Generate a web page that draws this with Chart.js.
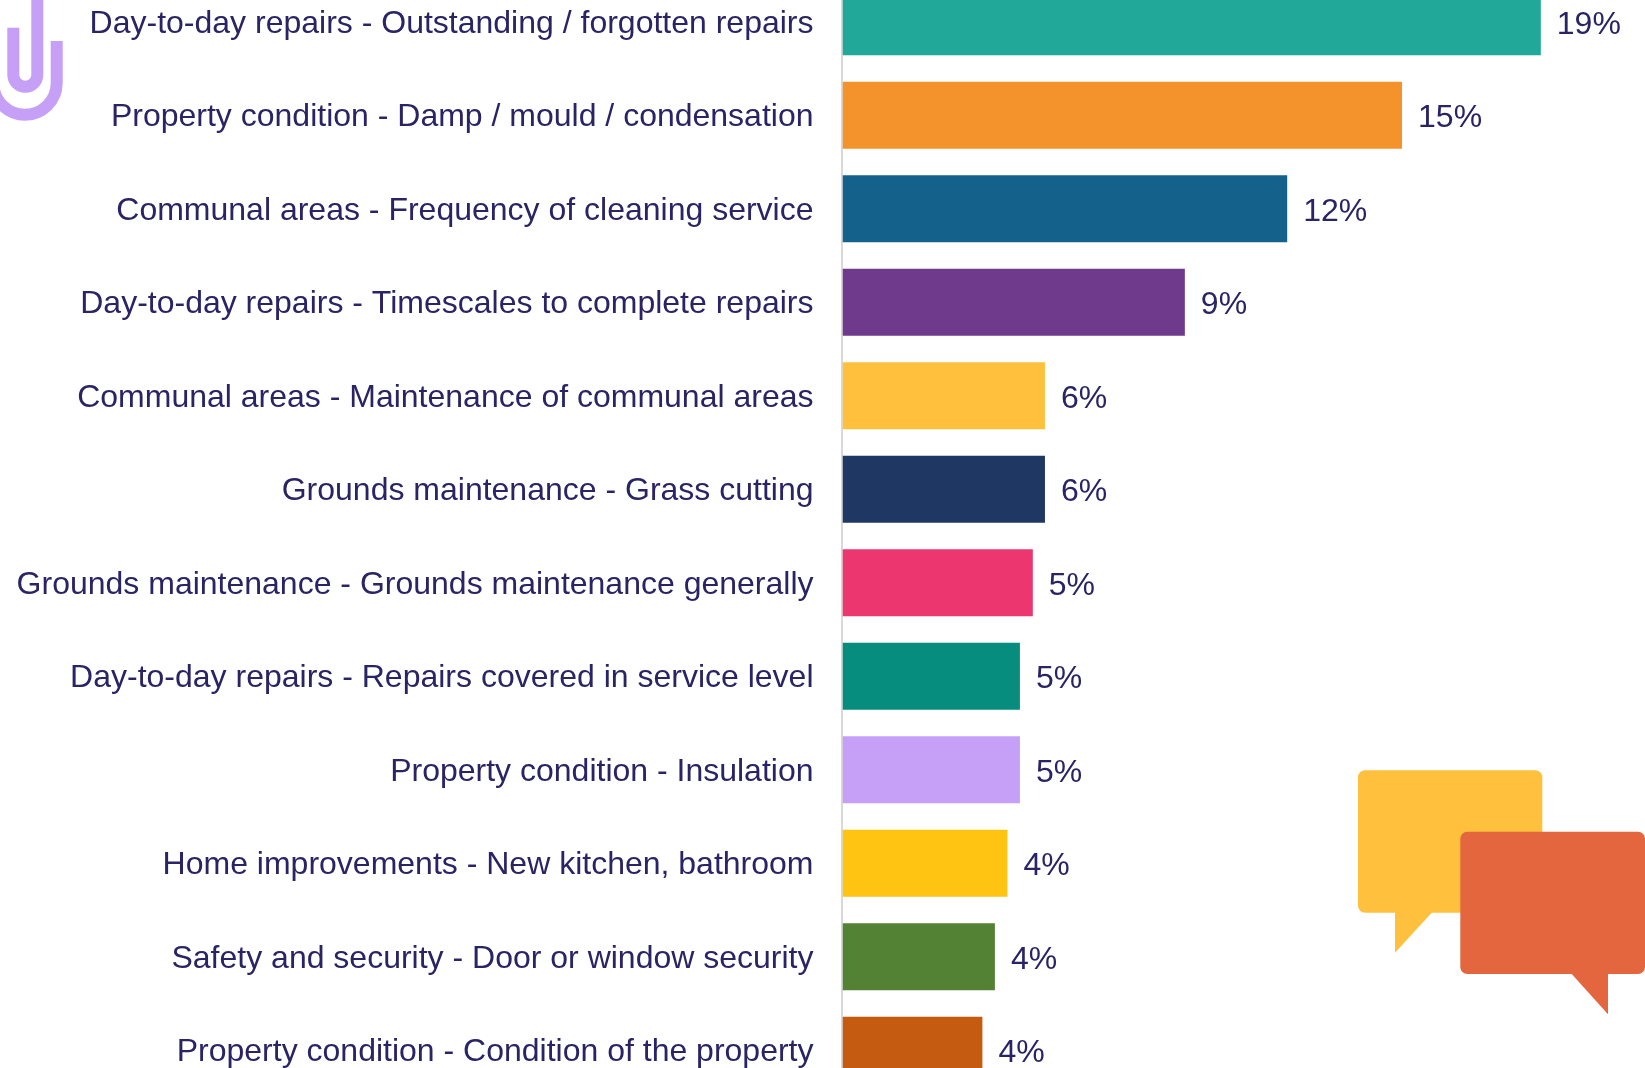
<!DOCTYPE html>
<html>
<head>
<meta charset="utf-8">
<title>Reasons for dissatisfaction</title>
<script src="https://cdn.jsdelivr.net/npm/chart.js@4"></script>
<style>
  html, body { margin: 0; padding: 0; background: #fff; overflow: hidden; width: 1645px; height: 1068px; }
  #wrap { position: absolute; left: 0; top: -25px; width: 1645px; height: 1122px; }
  svg.deco { position: absolute; left: 0; top: 0; width: 1645px; height: 1068px; pointer-events: none; }
</style>
</head>
<body>
<div id="wrap"><canvas id="chart"></canvas></div>

<svg class="deco" viewBox="0 0 1645 1068">
  <!-- paperclip emblem -->
  <g fill="none" stroke="#C6A0F7" stroke-width="12">
    <path d="M13.3 27.7 V74.7 A12 12 0 0 0 37.3 74.7 V-5"/>
    <path d="M56.7 41 V83 A31.7 31.7 0 0 1 -6.7 83 V40"/>
  </g>
  <!-- speech bubbles -->
  <path fill="#FFC13D" d="M1365 770.3 H1535.3 A7 7 0 0 1 1542.3 777.3 V905.7 A7 7 0 0 1 1535.3 912.7 H1431.7 L1395 952.7 V912.7 H1365 A7 7 0 0 1 1358 905.7 V777.3 A7 7 0 0 1 1365 770.3 Z"/>
  <path fill="#E4663F" d="M1467.3 831.7 H1638 A7 7 0 0 1 1645 838.7 V967 A7 7 0 0 1 1638 974 H1608 V1014.3 L1571.7 974 H1467.3 A7 7 0 0 1 1460.3 967 V838.7 A7 7 0 0 1 1467.3 831.7 Z"/>
</svg>

<script>
const categories = [
  "Day-to-day repairs - Outstanding / forgotten repairs",
  "Property condition - Damp / mould / condensation",
  "Communal areas - Frequency of cleaning service",
  "Day-to-day repairs - Timescales to complete repairs",
  "Communal areas - Maintenance of communal areas",
  "Grounds maintenance - Grass cutting",
  "Grounds maintenance - Grounds maintenance generally",
  "Day-to-day repairs - Repairs covered in service level",
  "Property condition - Insulation",
  "Home improvements - New kitchen, bathroom",
  "Safety and security - Door or window security",
  "Property condition - Condition of the property"
];
const percentages = [18.97, 15.2, 12.08, 9.3, 5.5, 5.5, 5.17, 4.82, 4.82, 4.48, 4.14, 3.8];
const barColours = [
  "#22A898", "#F4922C", "#14628C", "#6F3A8B", "#FFC13D", "#1F3763",
  "#EC3670", "#068D7E", "#C6A0F7", "#FFC312", "#548235", "#C55A11"
];

const INK = "#2A2364";
const FONT = '32px "Liberation Sans", Arial, sans-serif';

// Draws the baseline just left of the bars and the rounded percentage past each bar.
const barAnnotations = {
  id: "barAnnotations",
  beforeDatasetsDraw(chart) {
    const { ctx, chartArea } = chart;
    ctx.save();
    ctx.fillStyle = "#D9D9D9";
    ctx.fillRect(chartArea.left - 1.5, chartArea.top, 2, chartArea.bottom - chartArea.top);
    ctx.restore();
  },
  afterDatasetsDraw(chart) {
    const { ctx } = chart;
    const meta = chart.getDatasetMeta(0);
    ctx.save();
    ctx.font = FONT;
    ctx.fillStyle = INK;
    ctx.textAlign = "left";
    ctx.textBaseline = "middle";
    meta.data.forEach((bar, i) => {
      ctx.fillText(Math.round(percentages[i]) + "%", bar.x + 16, bar.y + 3);
    });
    ctx.restore();
  }
};

new Chart(document.getElementById("chart"), {
  type: "bar",
  data: {
    labels: categories,
    datasets: [{
      data: percentages,
      backgroundColor: barColours,
      borderWidth: 0,
      barPercentage: 0.7166,
      categoryPercentage: 1
    }]
  },
  options: {
    indexAxis: "y",
    responsive: true,
    maintainAspectRatio: false,
    animation: false,
    layout: { padding: 0 },
    plugins: { legend: { display: false }, tooltip: { enabled: false } },
    scales: {
      x: { display: false, min: 0, max: 21.8 },
      y: {
        afterFit(scale) {
          scale.width = 842.5;
          scale.paddingTop = 0;
          scale.paddingBottom = 0;
        },
        grid: { display: false, drawTicks: false },
        border: { display: false },
        ticks: {
          autoSkip: false,
          padding: 29,
          labelOffset: 2,
          color: INK,
          font: { family: '"Liberation Sans", Arial, sans-serif', size: 32 }
        }
      }
    }
  },
  plugins: [barAnnotations]
});
</script>
</body>
</html>
